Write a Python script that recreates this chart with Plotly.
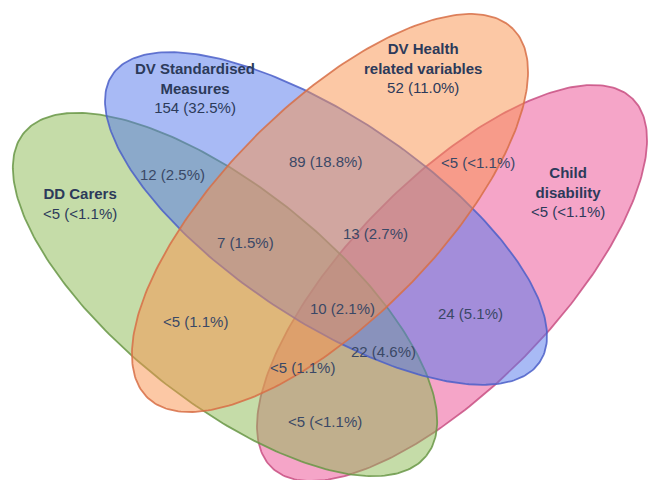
import numpy as np
import plotly.graph_objects as go

# ---- data ----
set_names = ["DD Carers", "DV Standardised<br>Measures", "DV Health<br>related variables", "Child<br>disability"]
set_only_counts = ["<5", "154", "52", "<5"]
set_only_pcts = ["<1.1%", "32.5%", "11.0%", "<1.1%"]

region_names = ["DD∩DVS", "DVS∩DVH", "DVH∩CD", "DD∩DVS∩DVH", "DVS∩DVH∩CD",
                "ALL", "DVS∩CD", "DD∩DVH", "DD∩DVS∩CD", "DD∩DVH∩CD", "DD∩CD"]
region_counts = ["12", "89", "<5", "7", "13", "10", "24", "<5", "22", "<5", "<5"]
region_pcts = ["2.5%", "18.8%", "<1.1%", "1.5%", "2.7%", "2.1%", "5.1%", "1.1%", "4.6%", "1.1%", "<1.1%"]

# ---- geometry / style (pixel-like coordinates) ----
ellipses = [
    dict(cx=225, cy=294.5, a=258, b=107, ang=38.7),    # DD Carers (green)
    dict(cx=326, cy=218.5, a=257.5, b=101, ang=33.9),  # DV Standardised (blue)
    dict(cx=330, cy=213, a=259.6, b=107, ang=-45.2),   # DV Health (orange)
    dict(cx=452, cy=283, a=258, b=103.4, ang=-45.6),   # Child disability (pink)
]
fills = ["rgba(139,185,81,0.5)", "rgba(81,117,235,0.5)", "rgba(249,145,75,0.5)", "rgba(235,75,145,0.5)"]
lines = ["rgba(105,150,70,0.85)", "rgba(75,95,200,0.85)", "rgba(215,110,70,0.85)", "rgba(200,80,130,0.85)"]
draw_order = [3, 0, 1, 2]

name_pos = [(80, 203), (195, 88), (423, 68), (568, 192)]
region_pos = [(172, 174), (325, 161), (478, 162), (245, 242), (375, 233),
              (342, 308), (470, 313), (195, 321), (383, 351), (302, 367), (325, 421)]

fig = go.Figure()
t = np.linspace(0, 2 * np.pi, 300)
for i in draw_order:
    e = ellipses[i]
    th = np.deg2rad(e["ang"])
    x = e["cx"] + e["a"] * np.cos(t) * np.cos(th) - e["b"] * np.sin(t) * np.sin(th)
    y = e["cy"] + e["a"] * np.cos(t) * np.sin(th) + e["b"] * np.sin(t) * np.cos(th)
    fig.add_trace(go.Scatter(x=x, y=y, mode="lines", fill="toself", fillcolor=fills[i],
                             line=dict(color=lines[i], width=1.8), hoverinfo="skip",
                             name=set_names[i].replace("<br>", " "), showlegend=False))

font_name = "Liberation Sans, Arial, sans-serif"
for (px, py), nm, c, p in zip(name_pos, set_names, set_only_counts, set_only_pcts):
    fig.add_annotation(x=px, y=py, text=f"<b>{nm}</b><br>{c} ({p})", showarrow=False,
                       font=dict(family=font_name, size=15, color="#2c3a5a"), align="center")
for (px, py), c, p in zip(region_pos, region_counts, region_pcts):
    fig.add_annotation(x=px, y=py, text=f"{c} ({p})", showarrow=False,
                       font=dict(family=font_name, size=15, color="#3a4866"))

fig.update_xaxes(range=[0, 648], visible=False, fixedrange=True)
fig.update_yaxes(range=[480, 0], visible=False, fixedrange=True)
fig.update_layout(width=648, height=480, margin=dict(l=0, r=0, t=0, b=0),
                  plot_bgcolor="white", paper_bgcolor="white", showlegend=False)
fig.write_html("out.html", config={"displayModeBar": False},
               post_script="document.body.style.margin='0';document.body.style.padding='0';")
